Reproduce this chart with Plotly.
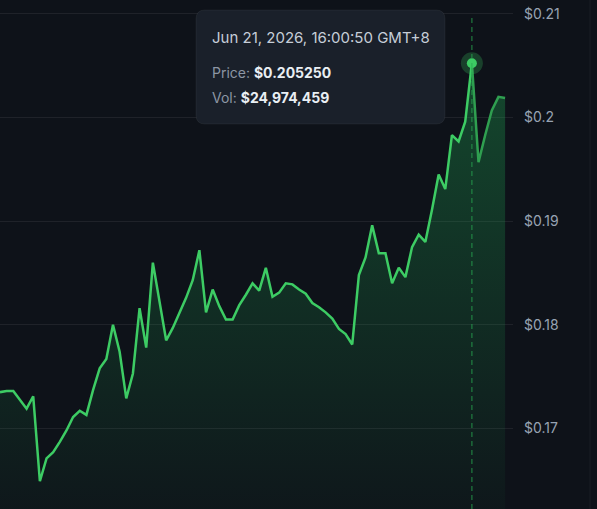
import plotly.graph_objects as go
import pandas as pd

# ---- data ----
prices = [
    0.1735, 0.1736, 0.1736, 0.1727, 0.1719, 0.1731, 0.1649, 0.1671, 0.1677, 0.1687,
    0.1698, 0.1711, 0.1717, 0.1713, 0.1737, 0.1758, 0.1767, 0.1800, 0.1774, 0.1729,
    0.1753, 0.1816, 0.1778, 0.1860, 0.1822, 0.1785, 0.1797, 0.1811, 0.1826, 0.1843,
    0.1872, 0.1812, 0.1834, 0.1818, 0.1805, 0.1805, 0.1819, 0.1829, 0.1840, 0.1833,
    0.1855, 0.1827, 0.1831, 0.1840, 0.1839, 0.1834, 0.1830, 0.1821, 0.1817, 0.1812,
    0.1806, 0.1796, 0.1791, 0.1781, 0.1848, 0.1865, 0.1896, 0.1869, 0.1869, 0.1840,
    0.1855, 0.1846, 0.1875, 0.1887, 0.1880, 0.1911, 0.1945, 0.1931, 0.1983, 0.1977,
    0.1996, 0.20525, 0.1957, 0.1983, 0.2007, 0.2020, 0.2019,
]
hover_index = 71
hover_time_label = "Jun 21, 2026, 16:00:50 GMT+8"
hover_volume = 24974459
tick_values = [0.17, 0.18, 0.19, 0.20, 0.21]
tick_labels = ["$0.17", "$0.18", "$0.19", "$0.2", "$0.21"]

step = pd.Timedelta(minutes=20)
hover_ts = pd.Timestamp("2026-06-21 16:00:50")
start = hover_ts - hover_index * step
times = [start + i * step for i in range(len(prices))]
time_str = [t.strftime("%Y-%m-%d %H:%M:%S") for t in times]

# ---- layout constants ----
W, H = 597, 509
ML, MR, MT, MB = 0, 84, 0, 0
PW, PH = W - ML - MR, H - MT - MB
px_per_step = 6.646
x_end = start + step * (PW / px_per_step)
y_lo, y_hi = 0.16222, 0.21135

BG = "#0e1219"
GREEN = "#3dcc64"
GREEN_DIM = "#2f9f50"

fig = go.Figure()

# gradient area
fig.add_trace(go.Scatter(
    x=time_str, y=prices, mode="lines", line=dict(width=0),
    fill="tozeroy",
    fillgradient=dict(type="vertical", start=y_lo, stop=max(prices),
                      colorscale=[[0, "rgba(34,197,94,0.03)"],
                                  [1, "rgba(34,197,94,0.30)"]]),
    hoverinfo="skip", showlegend=False,
))
# line up to the hovered point
fig.add_trace(go.Scatter(
    x=time_str[:hover_index + 1], y=prices[:hover_index + 1], mode="lines",
    line=dict(color=GREEN, width=2.5), hoverinfo="skip", showlegend=False,
))
# dimmed line after the hovered point
fig.add_trace(go.Scatter(
    x=time_str[hover_index:], y=prices[hover_index:], mode="lines",
    line=dict(color=GREEN_DIM, width=2.5), hoverinfo="skip", showlegend=False,
))
# hover halo + dot
fig.add_trace(go.Scatter(
    x=[time_str[hover_index]], y=[prices[hover_index]], mode="markers",
    marker=dict(size=22, color="rgba(61,204,100,0.25)"),
    hoverinfo="skip", showlegend=False,
))
fig.add_trace(go.Scatter(
    x=[time_str[hover_index]], y=[prices[hover_index]], mode="markers",
    marker=dict(size=10, color=GREEN),
    hoverinfo="skip", showlegend=False,
))

def px(xp):
    return xp / PW

def py(yp):
    return 1 - yp / PH

# tooltip rounded box
x0, x1, yt, yb, r = 196, 445, 10, 124, 9
rx, ry = r / PW, r / PH
path = (
    f"M {px(x0)+rx},{py(yt)} L {px(x1)-rx},{py(yt)} "
    f"Q {px(x1)},{py(yt)} {px(x1)},{py(yt)-ry} "
    f"L {px(x1)},{py(yb)+ry} Q {px(x1)},{py(yb)} {px(x1)-rx},{py(yb)} "
    f"L {px(x0)+rx},{py(yb)} Q {px(x0)},{py(yb)} {px(x0)},{py(yb)+ry} "
    f"L {px(x0)},{py(yt)-ry} Q {px(x0)},{py(yt)} {px(x0)+rx},{py(yt)} Z"
)

shapes = [
    dict(type="line", xref="x", yref="paper",
         x0=time_str[hover_index], x1=time_str[hover_index],
         y0=0, y1=py(14),
         line=dict(color="rgba(40,170,80,0.55)", width=1.5, dash="5px,4px"),
         layer="above"),
    dict(type="line", xref="paper", yref="paper", x0=590 / PW, x1=590 / PW,
         y0=0, y1=1, line=dict(color="rgba(255,255,255,0.05)", width=1)),
    dict(type="path", xref="paper", yref="paper", path=path,
         fillcolor="#1a202a", line=dict(color="rgba(255,255,255,0.05)", width=1),
         layer="above"),
]

font_family = "Inter, Roboto, sans-serif"
ann = [
    dict(xref="paper", yref="paper", x=px(210), y=py(37), xanchor="left",
         yanchor="middle", showarrow=False, text=hover_time_label,
         font=dict(family=font_family, size=15, color="#c6ced8")),
    dict(xref="paper", yref="paper", x=px(210), y=py(72.5), xanchor="left",
         yanchor="middle", showarrow=False,
         text=f'<span style="color:#8d96a4">Price: </span><b>${prices[hover_index]:.6f}</b>',
         font=dict(family=font_family, size=14, color="#e9eef3")),
    dict(xref="paper", yref="paper", x=px(210), y=py(97), xanchor="left",
         yanchor="middle", showarrow=False,
         text=f'<span style="color:#8d96a4">Vol: </span><b>${hover_volume:,}</b>',
         font=dict(family=font_family, size=14, color="#e9eef3")),
]

fig.update_layout(
    width=W, height=H,
    margin=dict(l=ML, r=MR, t=MT, b=MB),
    paper_bgcolor=BG, plot_bgcolor=BG,
    showlegend=False,
    xaxis=dict(type="date", range=[time_str[0], x_end.strftime("%Y-%m-%d %H:%M:%S")],
               visible=False, showgrid=False, zeroline=False),
    yaxis=dict(range=[y_lo, y_hi], side="right", tickvals=tick_values,
               ticktext=tick_labels, showgrid=True,
               gridcolor="rgba(255,255,255,0.07)", gridwidth=1,
               zeroline=False, showline=False, ticks="",
               ticklabelstandoff=10,
               tickfont=dict(family=font_family, size=14, color="#98a3b3")),
    shapes=shapes,
    annotations=ann,
)

fig.write_html("out.html")
